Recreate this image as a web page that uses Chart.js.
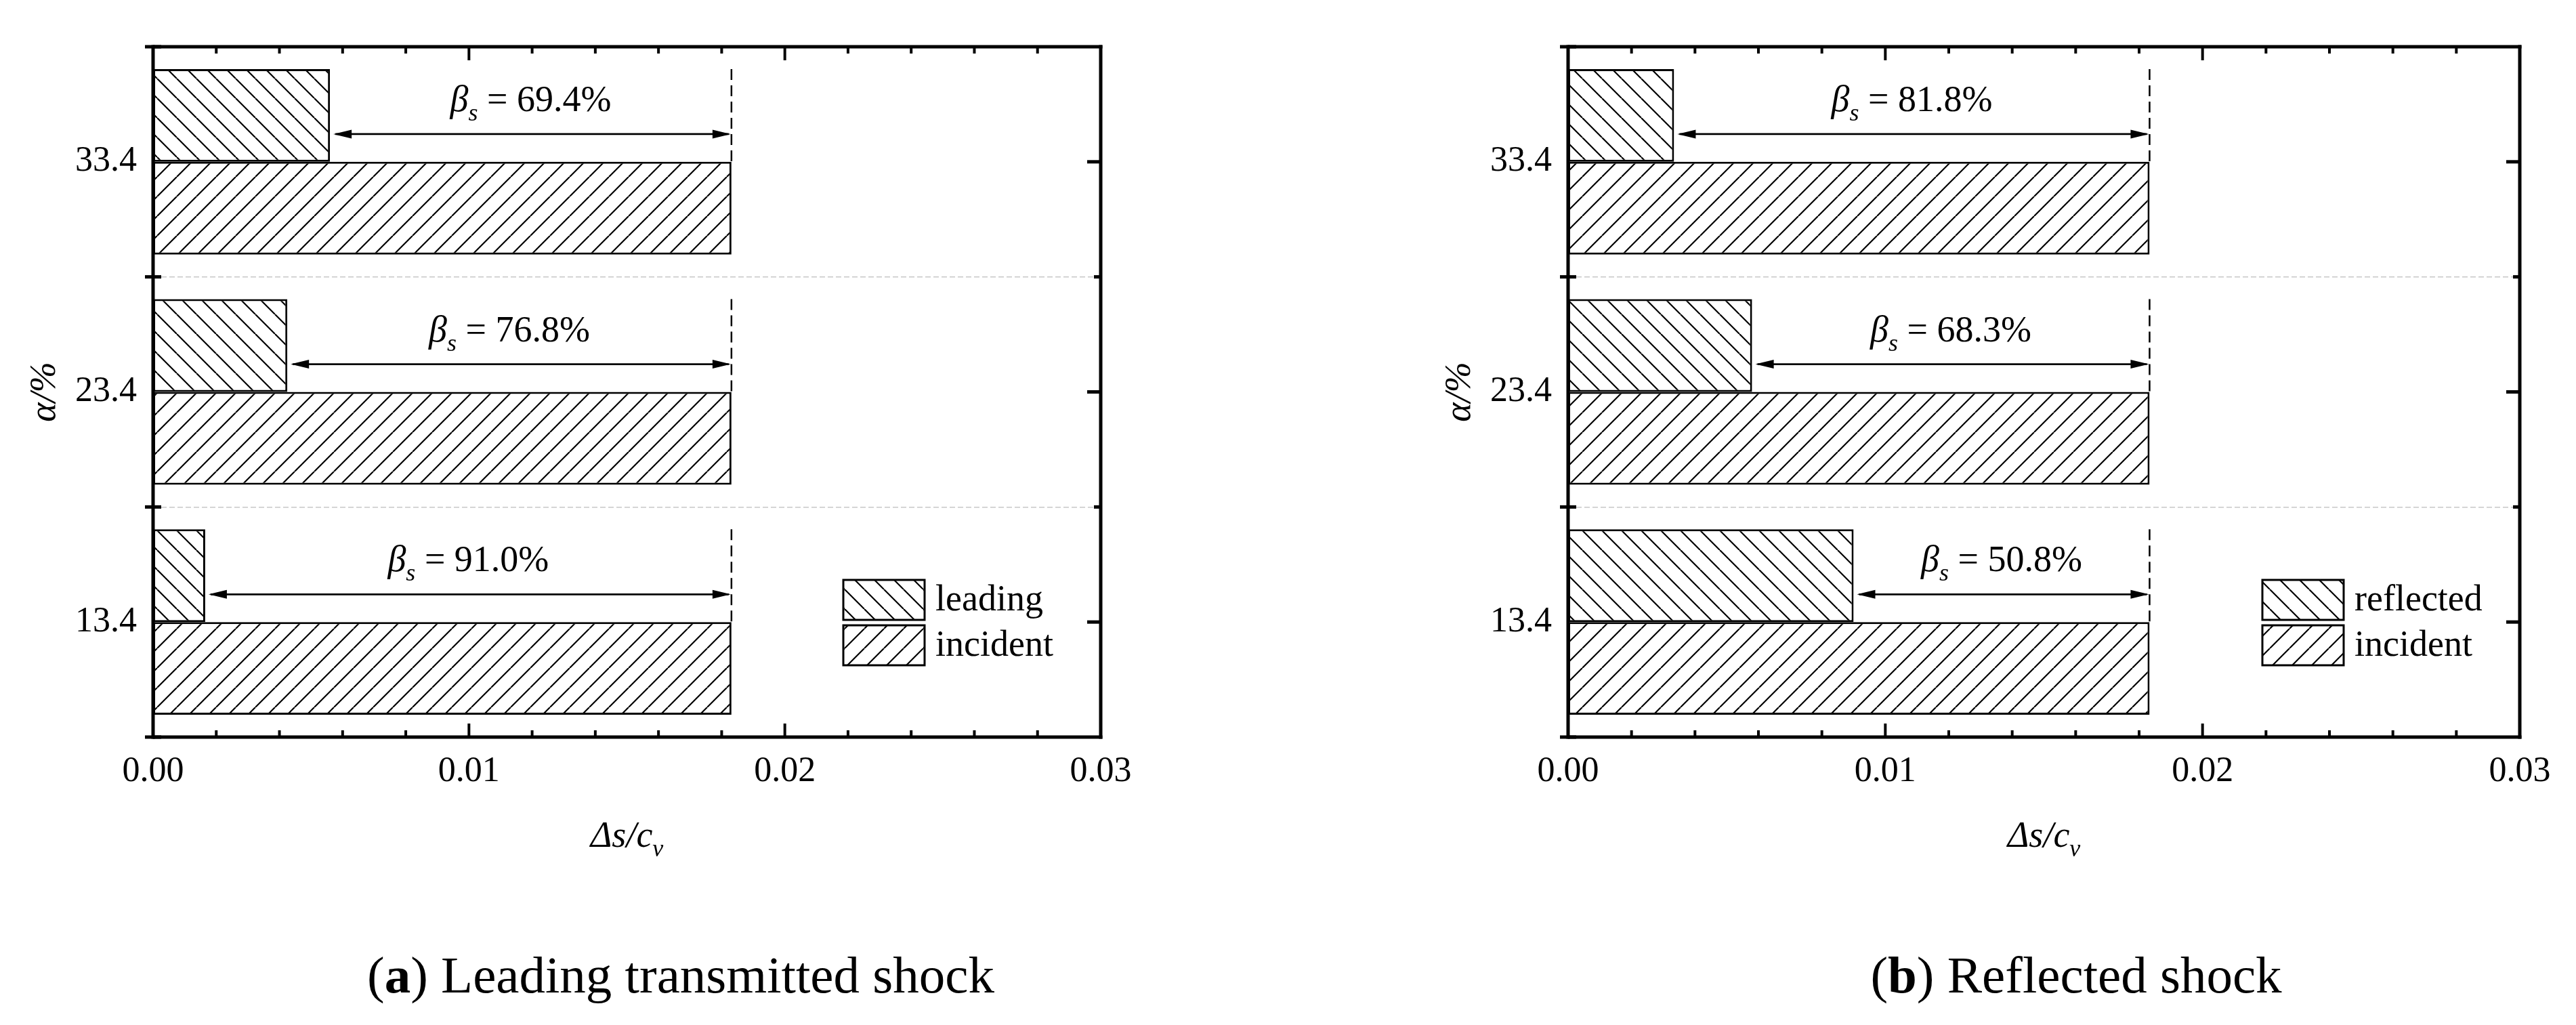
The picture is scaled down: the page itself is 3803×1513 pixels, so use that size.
<!DOCTYPE html>
<html>
<head>
<meta charset="utf-8">
<script src="https://cdn.jsdelivr.net/npm/chart.js@4"></script>
<style>
  html, body { margin: 0; padding: 0; background: #fff; }
  body { width: 3803px; height: 1513px; position: relative; overflow: hidden; }
  canvas { position: absolute; top: 0; }
</style>
</head>
<body>
<canvas id="chartA" width="1901" height="1513" style="left:0px"></canvas>
<canvas id="chartB" width="1902" height="1513" style="left:1901px"></canvas>
<script>
// categories, top to bottom
const alphaLabels = ["33.4", "23.4", "13.4"];
const xTickLabels = ["0.00", "0.01", "0.02", "0.03"];

// (a) leading transmitted shock
const leadingA = [0.0056, 0.00425, 0.00165];
const incidentA = [0.01831, 0.01831, 0.01831];
const betaA = ["69.4%", "76.8%", "91.0%"];

// (b) reflected shock
const reflectedB = [0.00334, 0.0058, 0.009];
const incidentB = [0.01833, 0.01833, 0.01833];
const betaB = ["81.8%", "68.3%", "50.8%"];

Chart.defaults.font.family = "'Liberation Serif', 'Times New Roman', serif";
Chart.defaults.color = "#000";

function makeHatch(dir) {
  const s = 29;
  const c = document.createElement("canvas");
  c.width = s;
  c.height = s;
  const g = c.getContext("2d");
  g.fillStyle = "#fff";
  g.fillRect(0, 0, s, s);
  g.strokeStyle = "#000";
  g.lineWidth = 2.2;
  g.beginPath();
  for (let k = -1; k <= 1; k++) {
    if (dir === "back") {
      g.moveTo(k * s, 0);
      g.lineTo(k * s + s, s);
    } else {
      g.moveTo(k * s, s);
      g.lineTo(k * s + s, 0);
    }
  }
  g.stroke();
  return g.createPattern(c, "repeat");
}

const hatchBack = makeHatch("back");
const hatchFwd = makeHatch("fwd");

function line(ctx, x1, y1, x2, y2) {
  ctx.beginPath();
  ctx.moveTo(x1, y1);
  ctx.lineTo(x2, y2);
  ctx.stroke();
}

function arrowHead(ctx, x, y, dir) {
  ctx.beginPath();
  ctx.moveTo(x, y);
  ctx.lineTo(x - dir * 27, y - 6.5);
  ctx.lineTo(x - dir * 27, y + 6.5);
  ctx.closePath();
  ctx.fill();
}

const shockDecor = {
  id: "shockDecor",
  afterDraw(chart, args, opts) {
    const ctx = chart.ctx;
    const ca = chart.chartArea;
    const xs = chart.scales.x;
    const ys = chart.scales.y;
    ctx.save();
    ctx.strokeStyle = "#000";
    ctx.fillStyle = "#000";

    // beta annotations
    const lead = chart.getDatasetMeta(0).data;
    const inc = chart.getDatasetMeta(1).data;
    for (let j = 0; j < lead.length; j++) {
      const l = lead[j].getProps(["x", "y", "height"], true);
      const r = inc[j].getProps(["x"], true);
      const top = l.y - l.height / 2;
      ctx.lineWidth = 2.5;
      ctx.setLineDash([16, 8]);
      line(ctx, r.x, top, r.x, l.y + l.height / 2);
      ctx.setLineDash([]);
      const ay = top + 96;
      ctx.lineWidth = 2.7;
      line(ctx, l.x + 8, ay, r.x - 4, ay);
      arrowHead(ctx, l.x + 5, ay, -1);
      arrowHead(ctx, r.x - 1, ay, 1);

      const base = top + 62;
      const fBig = "italic 54px 'Liberation Serif'";
      const fSub = "italic 36px 'Liberation Serif'";
      const fTxt = "54px 'Liberation Serif'";
      const rest = " = " + opts.beta[j];
      ctx.font = fBig;
      const w1 = ctx.measureText("β").width;
      ctx.font = fSub;
      const w2 = ctx.measureText("s").width;
      ctx.font = fTxt;
      const w3 = ctx.measureText(rest).width;
      let x0 = (l.x + r.x) / 2 - (w1 + w2 + w3) / 2;
      ctx.textAlign = "left";
      ctx.textBaseline = "alphabetic";
      ctx.font = fBig;
      ctx.fillText("β", x0, base);
      ctx.font = fSub;
      ctx.fillText("s", x0 + w1, base + 14);
      ctx.font = fTxt;
      ctx.fillText(rest, x0 + w1 + w2, base);
    }

    // frame
    ctx.lineWidth = 5;
    ctx.lineCap = "butt";
    line(ctx, ca.left, ca.top - 2.5, ca.left, ca.bottom + 2.5);
    line(ctx, ca.right, ca.top - 2.5, ca.right, ca.bottom + 2.5);
    line(ctx, ca.left, ca.top, ca.right + 2.5, ca.top);
    line(ctx, ca.left, ca.bottom, ca.right + 2.5, ca.bottom);

    // x ticks, inward on top and bottom
    ctx.lineWidth = 4;
    for (let v = 0; v <= xs.max + 1e-9; v += 0.002) {
      const px = xs.getPixelForValue(v);
      const major = Math.abs(v / 0.01 - Math.round(v / 0.01)) < 1e-6;
      const len = major ? 20 : 10;
      line(ctx, px, ca.bottom, px, ca.bottom - len);
      line(ctx, px, ca.top, px, ca.top + len);
    }

    // y ticks: both ways at boundaries on the left, inward on the right
    const n = chart.data.labels.length;
    const half = (ys.getPixelForValue(1) - ys.getPixelForValue(0)) / 2;
    ctx.lineWidth = 5;
    for (let j = 0; j < n; j++) {
      const cy = ys.getPixelForValue(j);
      line(ctx, ca.right, cy, ca.right - 20, cy);
      const b = cy - half;
      line(ctx, ca.left - 12, b, ca.left + 12, b);
      if (j > 0) line(ctx, ca.right, b, ca.right - 10, b);
      if (j === n - 1) line(ctx, ca.left - 12, cy + half, ca.left + 12, cy + half);
    }

    // legend
    const bx = ca.right - 380;
    let by = ca.bottom - 232;
    const fills = [hatchBack, hatchFwd];
    chart.data.datasets.forEach((ds, i) => {
      const y = by + i * 67;
      ctx.fillStyle = fills[i];
      ctx.fillRect(bx, y, 120, 59);
      ctx.lineWidth = 3;
      ctx.strokeRect(bx, y, 120, 59);
      ctx.fillStyle = "#000";
      ctx.font = "54px 'Liberation Serif'";
      ctx.textAlign = "left";
      ctx.textBaseline = "middle";
      ctx.fillText(ds.label, bx + 136, y + 31);
    });

    // x title: Δs/c_v
    ctx.textBaseline = "alphabetic";
    ctx.font = "italic 54px 'Liberation Serif'";
    const tw = ctx.measureText("Δs/c").width;
    ctx.font = "italic 36px 'Liberation Serif'";
    const vw = ctx.measureText("v").width;
    const tx = (ca.left + ca.right) / 2 - (tw + vw) / 2;
    const ty = ca.bottom + 162;
    ctx.font = "italic 54px 'Liberation Serif'";
    ctx.fillText("Δs/c", tx, ty);
    ctx.font = "italic 36px 'Liberation Serif'";
    ctx.fillText("v", tx + tw, ty + 14);

    // y title: α/%
    ctx.save();
    ctx.translate(ca.left - 159, (ca.top + ca.bottom) / 2);
    ctx.rotate(-Math.PI / 2);
    ctx.textAlign = "center";
    ctx.textBaseline = "middle";
    ctx.font = "italic 54px 'Liberation Serif'";
    ctx.fillText("α/%", 0, 0);
    ctx.restore();

    // caption
    const parts = [
      ["(", "77px 'Liberation Serif'"],
      [opts.tag, "bold 77px 'Liberation Serif'"],
      [") " + opts.caption, "77px 'Liberation Serif'"],
    ];
    let total = 0;
    parts.forEach((p) => {
      ctx.font = p[1];
      total += ctx.measureText(p[0]).width;
    });
    let cx = opts.captionX - total / 2;
    ctx.textAlign = "left";
    parts.forEach((p) => {
      ctx.font = p[1];
      ctx.fillText(p[0], cx, 1465);
      cx += ctx.measureText(p[0]).width;
    });
    ctx.restore();
  },
};

function makeChart(id, leadLabel, leadData, incData, betas, yWidth, padRight, tag, caption, captionX) {
  return new Chart(document.getElementById(id), {
    type: "bar",
    data: {
      labels: alphaLabels,
      datasets: [
        {
          label: leadLabel,
          data: leadData,
          backgroundColor: hatchBack,
          borderColor: "#000",
          borderWidth: 3,
          borderSkipped: false,
          categoryPercentage: 0.806,
          barPercentage: 1,
        },
        {
          label: "incident",
          data: incData,
          backgroundColor: hatchFwd,
          borderColor: "#000",
          borderWidth: 3,
          borderSkipped: false,
          categoryPercentage: 0.806,
          barPercentage: 1,
        },
      ],
    },
    options: {
      indexAxis: "y",
      responsive: false,
      devicePixelRatio: 1,
      animation: false,
      layout: { padding: { top: 69, right: padRight, left: 0, bottom: 0 } },
      plugins: {
        legend: { display: false },
        tooltip: { enabled: false },
        shockDecor: { beta: betas, tag: tag, caption: caption, captionX: captionX },
      },
      scales: {
        x: {
          type: "linear",
          min: 0,
          max: 0.03,
          afterFit(s) {
            s.height = 425;
          },
          grid: { display: false, drawTicks: false },
          border: { display: false },
          ticks: {
            stepSize: 0.01,
            padding: 20,
            font: { size: 52 },
            callback: (v, i) => xTickLabels[i],
          },
        },
        y: {
          type: "category",
          afterFit(s) {
            s.width = yWidth;
          },
          grid: { offset: true, color: "#c8c8c8", lineWidth: 1.5, drawTicks: false },
          border: { display: false, dash: [8, 4] },
          ticks: { padding: 24, font: { size: 52 } },
        },
      },
    },
    plugins: [shockDecor],
  });
}

makeChart("chartA", "leading", leadingA, incidentA, betaA, 226, 276, "a", "Leading transmitted shock", 1005);
makeChart("chartB", "reflected", reflectedB, incidentB, betaB, 414, 83, "b", "Reflected shock", 1164);
</script>
</body>
</html>
